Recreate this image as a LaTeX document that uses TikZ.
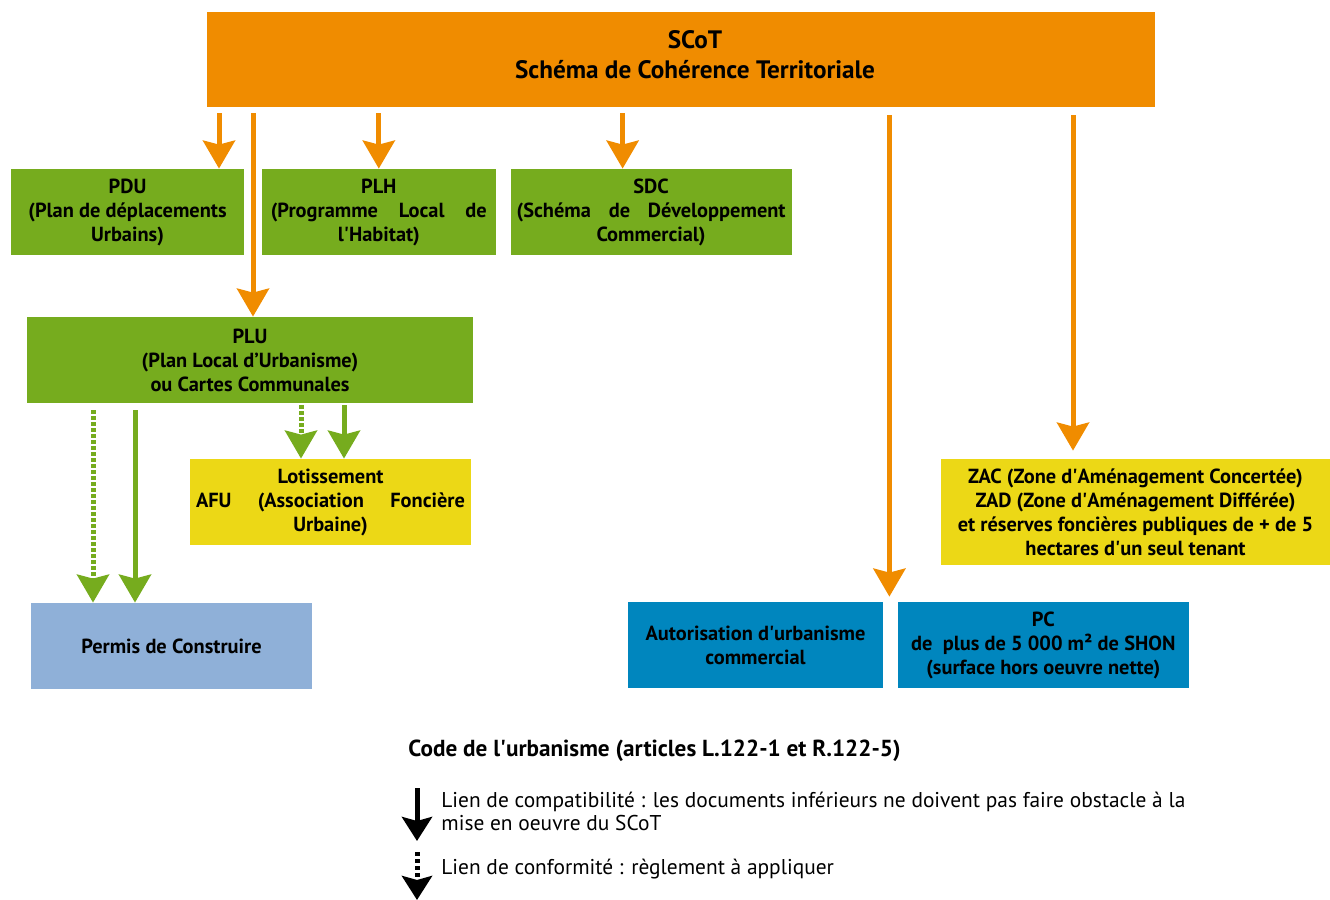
\documentclass[tikz,border=0pt]{standalone}
\usepackage{fontspec}
\setmainfont{PT Sans}
\usetikzlibrary{arrows.meta,positioning}
\definecolor{scotorange}{RGB}{240,140,0}
\definecolor{docgreen}{RGB}{118,172,30}
\definecolor{opyellow}{RGB}{236,216,22}
\definecolor{permisblue}{RGB}{143,176,216}
\definecolor{autoblue}{RGB}{0,134,190}
\newcommand{\spread}[2]{\makebox[#1][s]{#2}}
\newcommand{\sq}{\textquotesingle}

\begin{document}
\begin{tikzpicture}[
        x=0.5pt, y=-0.5pt,
        box/.style={rectangle, inner sep=0pt, align=center, minimum height=43pt,
            font=\fontsize{10.2}{12}\selectfont\bfseries},
        scotbox/.style={box, fill=scotorange, minimum width=474pt, minimum height=47.5pt,
            text depth=5pt, font=\fontsize{12.6}{15}\selectfont\bfseries},
        docbox/.style={box, fill=docgreen},
        opbox/.style={box, fill=opyellow},
        permisbox/.style={box, fill=permisblue},
        autobox/.style={box, fill=autoblue},
        orarrow/.style={line width=2.5pt, draw=scotorange, shorten <=3pt,
            -{Stealth[width=16pt, length=14pt, inset=2pt]}},
        grarrow/.style={line width=2.5pt, draw=docgreen,
            -{Stealth[width=16pt, length=14pt, inset=2pt]}},
        grdotted/.style={grarrow, dash pattern=on 2pt off 1pt},
        legarrow/.style={line width=2.5pt, draw=black,
            -{Stealth[width=15pt, length=12pt, inset=2pt]}},
        legdotted/.style={legarrow, dash pattern=on 2pt off 1.5pt},
        legtext/.style={inner sep=0pt, anchor=west, align=left,
            font=\fontsize{10.7}{11.5}\selectfont}
    ]
        \useasboundingbox (0,0) rectangle (1330,900);

        % SCoT
        \node[scotbox] (scot) at (681,59.5)
            {\hspace*{14pt}SCoT\\\hspace*{14pt}Schéma de Cohérence Territoriale};

        % documents compatibles
        \node[docbox, minimum width=116.5pt] (pdu) at (127.5,212)
            {PDU\\(Plan de déplacements\\Urbains)};
        \node[docbox, minimum width=117pt, right=8.5pt of pdu] (plh)
            {PLH\\\spread{108pt}{(Programme Local de}\\l\sq Habitat)};
        \node[docbox, minimum width=140.5pt, right=7pt of plh] (sdc)
            {SDC\\\spread{134.5pt}{(Schéma de Développement}\\Commercial)};
        \node[docbox, minimum width=223pt] (plu) at (250,360)
            {PLU\\(Plan Local d’Urbanisme)\\ou Cartes Communales};

        % operations
        \node[opbox, minimum width=140.5pt] (lot) at (330.5,502)
            {Lotissement\\\spread{134.5pt}{AFU (Association Foncière}\\Urbaine)};
        \node[opbox, minimum width=194.5pt, minimum height=53pt] (zac) at (1135.5,512)
            {ZAC (Zone d\sq Aménagement Concertée)\\ZAD (Zone d\sq Aménagement Différée)\\
             et réserves foncières publiques de + de 5\\hectares d\sq un seul tenant};

        % autorisations
        \node[permisbox, minimum width=140.5pt] (permis) at (171.5,646) {Permis de Construire};
        \node[autobox, minimum width=127.5pt] (auto) at (755.5,645)
            {Autorisation d\sq urbanisme\\commercial};
        \node[autobox, minimum width=145.5pt, right=7pt of auto] (pc)
            {PC\\de~ plus de 5 000 m² de SHON\\(surface hors oeuvre nette)};

        % points de depart des fleches
        \coordinate (pdutop) at ([xshift=45.75pt]pdu.north);
        \coordinate (plutop) at ([xshift=1.5pt]plu.north);
        \coordinate (sdctop) at ([xshift=-14.25pt]sdc.north);
        \coordinate (autotop) at ([xshift=3pt, yshift=2.5pt]auto.north east);
        \coordinate (zactop) at ([xshift=-31.25pt, yshift=4pt]zac.north);

        % liens depuis le SCoT
        \draw[orarrow] (pdutop |- scot.south) -- (pdutop);
        \draw[orarrow] (plutop |- scot.south) -- (plutop);
        \draw[orarrow] (plh.north |- scot.south) -- (plh.north);
        \draw[orarrow] (sdctop |- scot.south) -- (sdctop);
        \draw[orarrow, shorten <=4pt] (autotop |- scot.south) -- (autotop);
        \draw[orarrow, shorten <=4pt] (zactop |- scot.south) -- (zactop);

        % liens depuis le PLU
        \coordinate (permconf) at ([xshift=-39.25pt]permis.north);
        \coordinate (permcomp) at ([xshift=-18.25pt]permis.north);
        \coordinate (lotconf) at ([xshift=-14.75pt]lot.north);
        \coordinate (lotcomp) at ([xshift=6.75pt]lot.north);
        \draw[grdotted, shorten <=3.5pt] (permconf |- plu.south) -- (permconf);
        \draw[grarrow, shorten <=3.5pt] (permcomp |- plu.south) -- (permcomp);
        \draw[grdotted, shorten <=1pt] (lotconf |- plu.south) -- (lotconf);
        \draw[grarrow, shorten <=1pt] (lotcomp |- plu.south) -- (lotcomp);

        % legende
        \node[legtext, font=\fontsize{11.6}{12}\selectfont\bfseries] (legtitle) at (408,751)
            {Code de l\sq urbanisme (articles L.122-1 et R.122-5)};
        \node[legtext] (compat) at (441,811.5)
            {Lien de compatibilité : les documents inférieurs ne doivent pas faire obstacle à la\\
             mise en oeuvre du SCoT};
        \node[legtext] (conf) at (441,869) {Lien de conformité : règlement à appliquer};
        \coordinate (compatstart) at (417,788);
        \coordinate (compatend) at (417,841);
        \coordinate (confstart) at (417,852);
        \coordinate (confend) at (417,900);
        \draw[legarrow] (compatstart) -- (compatend);
        \draw[legdotted] (confstart) -- (confend);
    \end{tikzpicture}
\end{document}
